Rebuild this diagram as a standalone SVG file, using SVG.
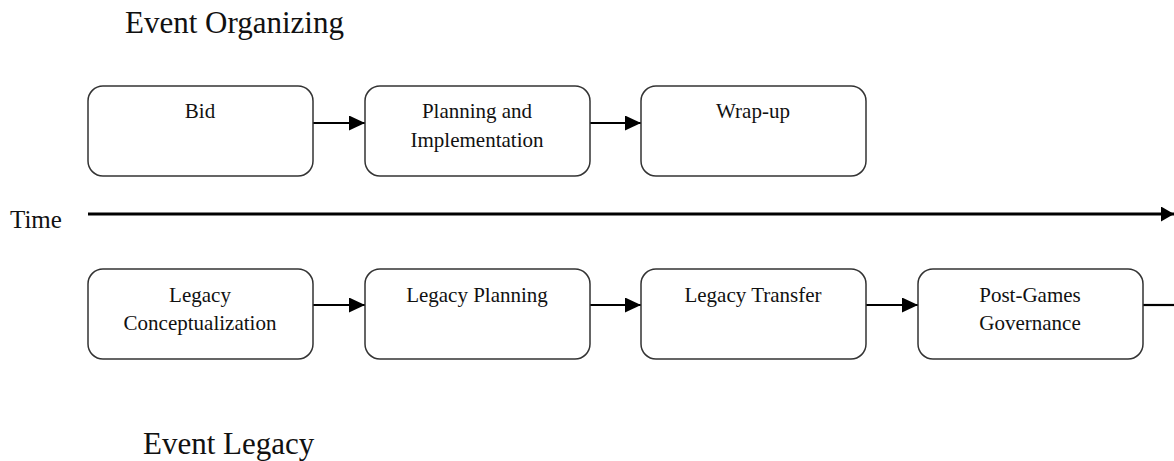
<svg xmlns="http://www.w3.org/2000/svg" width="1174" height="461" viewBox="0 0 1174 461">
<style>
.box{fill:#fff;stroke:#333;stroke-width:1.5}
.t{font-family:"Liberation Serif",serif;font-size:21px;fill:#111;text-anchor:middle}
.h{font-family:"Liberation Serif",serif;font-size:31px;fill:#111}
.c{stroke:#000;stroke-width:2.2;fill:none}
</style>
<defs>
<marker id="ah" viewBox="0 0 16 15" refX="16" refY="7.5" markerWidth="16" markerHeight="15" orient="auto" markerUnits="userSpaceOnUse">
<path d="M0,0 L16,7.5 L0,15 z" fill="#000"/>
</marker>
<marker id="ah2" viewBox="0 0 13 15" refX="13" refY="7.5" markerWidth="13" markerHeight="15" orient="auto" markerUnits="userSpaceOnUse">
<path d="M0,0 L13,7.5 L0,15 z" fill="#000"/>
</marker>
</defs>
<text class="h" x="125" y="33">Event Organizing</text>
<text class="h" x="143" y="454">Event Legacy</text>
<text class="h" x="10" y="228" style="font-size:25px">Time</text>
<g id="connectors">
<line class="c" x1="88" y1="214" x2="1174" y2="214" style="stroke-width:3" marker-end="url(#ah2)"/>
<line class="c" x1="313" y1="123" x2="365" y2="123" marker-end="url(#ah)"/>
<line class="c" x1="590" y1="123" x2="641" y2="123" marker-end="url(#ah)"/>
<line class="c" x1="313" y1="305" x2="365" y2="305" marker-end="url(#ah)"/>
<line class="c" x1="590" y1="305" x2="641" y2="305" marker-end="url(#ah)"/>
<line class="c" x1="866" y1="305" x2="918" y2="305" marker-end="url(#ah)"/>
<line class="c" x1="1143" y1="305" x2="1174" y2="305"/>
</g>
<g id="bid"><rect class="box" x="88" y="86" width="225" height="90" rx="15"/><text class="t" x="200" y="118">Bid</text></g>
<g id="planning"><rect class="box" x="365" y="86" width="225" height="90" rx="15"/><text class="t" x="477" y="118">Planning and</text><text class="t" x="477" y="147">Implementation</text></g>
<g id="wrapup"><rect class="box" x="641" y="86" width="225" height="90" rx="15"/><text class="t" x="753" y="118">Wrap-up</text></g>
<g id="concept"><rect class="box" x="88" y="269" width="225" height="90" rx="15"/><text class="t" x="200" y="302">Legacy</text><text class="t" x="200" y="330">Conceptualization</text></g>
<g id="lplanning"><rect class="box" x="365" y="269" width="225" height="90" rx="15"/><text class="t" x="477" y="302">Legacy Planning</text></g>
<g id="transfer"><rect class="box" x="641" y="269" width="225" height="90" rx="15"/><text class="t" x="753" y="302">Legacy Transfer</text></g>
<g id="governance"><rect class="box" x="918" y="269" width="225" height="90" rx="15"/><text class="t" x="1030" y="302">Post-Games</text><text class="t" x="1030" y="330">Governance</text></g>
</svg>
